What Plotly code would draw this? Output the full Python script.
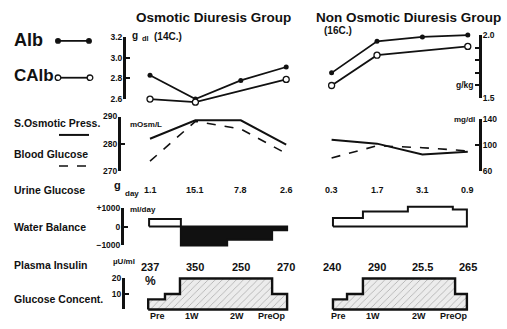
import plotly.graph_objects as go

W, H = 507, 329

# ---------------- data ----------------
groups = ["Osmotic Diuresis Group", "Non Osmotic Diuresis Group"]
group_cases = ["(14C.)", "(16C.)"]
time_labels = ["Pre", "1W", "2W", "PreOp"]
osm_x = [0, 1, 2, 3]
non_x = [4, 5, 6, 7]

alb_osm = [2.83, 2.60, 2.78, 2.91]
calb_osm = [2.60, 2.57, None, 2.79]
alb_non = [1.70, 1.95, 1.985, 2.00]
calb_non = [1.60, 1.84, None, 1.91]

sosm_osm = [281.8, 288.6, 288.6, 279.6]
sosm_non = [281.4, 280.0, 276.0, 277.0]
bglu_osm = [75, 137, 125, 87]
bglu_non = [80, 99, 96, 91]

urine_glu_osm = ["1.1", "15.1", "7.8", "2.6"]
urine_glu_non = ["0.3", "1.7", "3.1", "0.9"]

wb_edges_osm = [-0.02, 0.68, 1.70, 2.69, 3.02]
wb_vals_osm = [400, -1000, -700, -200]
wb_edges_non = [4.03, 4.69, 5.68, 6.67, 6.98]
wb_vals_non = [450, 800, 1050, 900]

insulin_osm = ["237", "350", "250", "270"]
insulin_non = ["240", "290", "25.5", "265"]

gc_edges_osm = [-0.04, 0.33, 0.66, 2.69, 3.02]
gc_vals_osm = [6.5, 10, 20, 10]
gc_edges_non = [4.03, 4.34, 4.69, 6.72, 6.98]
gc_vals_non = [6.5, 10, 20, 10]

row_labels = ["S.Osmotic Press.", "Blood Glucose", "Urine Glucose", "Water Balance",
              "Plasma Insulin", "Glucose Concent."]

# ---------------- helpers ----------------
FONT = "Liberation Sans, Arial, Helvetica, sans-serif"
BLACK = "#111111"
PX0, PXS = 150.0, 45.4  # pixel of x=0 and pixels per unit


def px(xp):
    return xp / W


def py(yp):
    return 1 - yp / H


def dom(top, bot):
    return [1 - bot / H, 1 - top / H]


def step_polygon(edges, vals):
    xs, ys = [edges[0]], [0]
    for i, v in enumerate(vals):
        xs += [edges[i], edges[i + 1]]
        ys += [v, v]
    xs += [edges[-1], edges[0]]
    ys += [0, 0]
    return xs, ys


tickfont = dict(family=FONT, size=8.5, color=BLACK, weight="bold")

# displayed scales: (name, top px, bottom px, lo, hi, position px, side, tickvals, ticktext)
scales = [
    ("alb_l", 33, 97, 2.6, 3.2, 124, "left", [2.6, 2.8, 3.0, 3.2], ["2.6", "2.8", "3.0", "3.2"]),
    ("alb_r", 31, 96, 1.5, 2.0, 480, "right", [1.5, 1.6, 1.7, 1.8, 1.9, 2.0],
     ["1.5", "", "", "", "", "2.0"]),
    ("osm", 115, 171, 270, 290, 119, "left", [270, 280, 290], ["270", "280", "290"]),
    ("bglu", 118, 171, 60, 140, 480, "right", [60, 100, 140], ["60", "100", "140"]),
    ("wb", 209, 248, -1000, 1000, 122, "left", [-1000, 0, 1000],
     ["\u22121000", "0", "+1000"]),
    ("gc", 282, 314, 0, 20, 123, "left", [0, 10, 20], ["", "10", "20"]),
]

fig = go.Figure()

layout_axes = dict(xaxis=dict(range=[-PX0 / PXS, (W - PX0) / PXS], visible=False,
                              domain=[0, 1], fixedrange=True))
data_axis = {}
n = len(scales)
EXT = 10
for i, (name, top, bot, lo, hi, pos, side, tv, tt) in enumerate(scales):
    key = "yaxis" if i == 0 else f"yaxis{i + 1}"
    layout_axes[key] = dict(domain=dom(top, bot), range=[lo, hi], anchor="free",
                            position=px(pos), side=side, showline=True, linewidth=3,
                            linecolor=BLACK, ticks="inside", ticklen=4, tickwidth=2,
                            tickcolor=BLACK, tickvals=tv, ticktext=tt, tickfont=tickfont,
                            showgrid=False, zeroline=False, fixedrange=True,
                            ticklabelstandoff=-1)
    # empty trace so that the displayed scale is rendered
    fig.add_trace(go.Scatter(x=[None], y=[None], yaxis="y" if i == 0 else f"y{i + 1}",
                             mode="lines", showlegend=False))
    # hidden twin with the same scale but a taller domain, so marks are not clipped
    k = (bot - top) / (hi - lo)
    t2, b2 = max(top - EXT, 0), min(bot + EXT, H)
    j = n + i + 1
    layout_axes[f"yaxis{j}"] = dict(domain=dom(t2, b2),
                                    range=[lo - (b2 - bot) / k, hi + (top - t2) / k],
                                    anchor="free", position=0, visible=False,
                                    fixedrange=True)
    data_axis[name] = f"y{j}"

# Albumin
for xs, alb, calb, ya in [(osm_x, alb_osm, calb_osm, data_axis["alb_l"]),
                          (non_x, alb_non, calb_non, data_axis["alb_r"])]:
    fig.add_trace(go.Scatter(x=xs, y=alb, yaxis=ya, mode="lines+markers", cliponaxis=False,
                             line=dict(color=BLACK, width=1.8),
                             marker=dict(size=5, color=BLACK)))
    fig.add_trace(go.Scatter(x=xs, y=calb, yaxis=ya, mode="lines+markers", cliponaxis=False,
                             connectgaps=True, line=dict(color=BLACK, width=1.8),
                             marker=dict(size=6, color="white", line=dict(color=BLACK, width=1.3))))

# Osmotic pressure / blood glucose
for xs, so, bg in [(osm_x, sosm_osm, bglu_osm), (non_x, sosm_non, bglu_non)]:
    fig.add_trace(go.Scatter(x=xs, y=so, yaxis=data_axis["osm"], mode="lines",
                             line=dict(color=BLACK, width=2)))
    fig.add_trace(go.Scatter(x=xs, y=bg, yaxis=data_axis["bglu"], mode="lines",
                             line=dict(color=BLACK, width=1.6, dash="dash")))

# Water balance
for edges, vals in [(wb_edges_osm, wb_vals_osm), (wb_edges_non, wb_vals_non)]:
    i = 0
    while i < len(vals):
        j = i
        while j + 1 < len(vals) and (vals[j + 1] >= 0) == (vals[i] >= 0):
            j += 1
        xs, ys = step_polygon(edges[i:j + 2], vals[i:j + 1])
        neg = vals[i] < 0
        fig.add_trace(go.Scatter(x=xs, y=ys, yaxis=data_axis["wb"], mode="lines",
                                 fill="toself", fillcolor=BLACK if neg else "white",
                                 line=dict(color=BLACK, width=2)))
        i = j + 1

# Glucose concentration
for edges, vals in [(gc_edges_osm, gc_vals_osm), (gc_edges_non, gc_vals_non)]:
    xs, ys = step_polygon(edges, vals)
    fig.add_trace(go.Scatter(x=xs, y=ys, yaxis=data_axis["gc"], mode="lines", fill="toself",
                             fillcolor="#e4e4e4",
                             fillpattern=dict(shape="/", bgcolor="#ececec", fgcolor="#666666",
                                              size=5, solidity=0.15),
                             line=dict(color=BLACK, width=2.4)))

# ---------------- text ----------------
anns = []


def ann(text, x, y, size, xanchor="left", xref="paper", weight="bold"):
    anns.append(dict(text=text, x=x if xref != "paper" else px(x), y=py(y), xref=xref,
                     yref="paper", xanchor=xanchor, yanchor="middle", showarrow=False,
                     font=dict(family=FONT, size=size, color=BLACK, weight=weight)))


ann(groups[0], 213, 13, 13.5, "center")
ann(groups[1], 408, 13, 13.5, "center")
ann("Alb", 12, 36, 18)
ann("CAlb", 12, 73, 17)
for lab, yy in zip(row_labels, [122, 154, 191, 229, 268, 303]):
    ann(lab, 12, yy, 10.5)

ann("g", 130, 31, 10)
ann("dl", 140, 35, 7.5)
ann(group_cases[0], 152, 32, 10)
ann(group_cases[1], 322, 26, 10)
ann("g/kg", 454, 83, 8.5)
ann("mOsm/L", 128, 123, 8)
ann("mg/dl", 452, 118, 8)
ann("g", 112, 186, 11)
ann("day", 123, 194, 8)
ann("ml/day", 128, 211, 8)
ann("\u00b5U/ml", 111, 265, 8)
ann("%", 143, 285, 12)

for xs, vals in [(osm_x, urine_glu_osm), (non_x, urine_glu_non)]:
    for xv, t in zip(xs, vals):
        ann(t, xv, 191, 9, "center", "x", "bold")
for xs, vals in [(osm_x, insulin_osm), (non_x, insulin_non)]:
    for xv, t in zip(xs, vals):
        ann(t, xv, 270, 11, "center", "x", "bold")
for xs in [osm_x, non_x]:
    for k, (xv, t) in enumerate(zip(xs, time_labels)):
        if k == 0:
            ann(t, xv - 0.05, 321, 9, "left", "x")
        elif k == 3:
            ann(t, xv + 0.05, 321, 9, "right", "x")
        else:
            ann(t, xv - 0.08, 321, 9, "center", "x")

# legend samples
shapes = []


def seg(x0, x1, y, dash="solid", w=1.8):
    shapes.append(dict(type="line", xref="paper", yref="paper", x0=px(x0), x1=px(x1),
                       y0=py(y), y1=py(y), line=dict(color=BLACK, width=w, dash=dash)))


def dot(x, y, r, fill):
    shapes.append(dict(type="circle", xref="paper", yref="paper", x0=px(x - r), x1=px(x + r),
                       y0=py(y + r), y1=py(y - r), fillcolor=fill,
                       line=dict(color=BLACK, width=1.3)))


seg(58, 89, 37)
dot(58, 37, 2.3, BLACK)
dot(89, 37, 2.3, BLACK)
seg(60, 88, 75)
dot(58, 75, 2.8, "white")
dot(90, 75, 2.8, "white")
seg(59, 89, 134, w=2)
seg(59, 89, 166, dash="dash", w=1.6)

fig.update_layout(
    width=W, height=H, margin=dict(l=0, r=0, t=0, b=0),
    paper_bgcolor="white", plot_bgcolor="rgba(0,0,0,0)",
    showlegend=False, annotations=anns, shapes=shapes, hovermode=False, **layout_axes,
)

fig.write_html("out.html", config={"displayModeBar": False, "staticPlot": True},
               post_script="document.body.style.margin='0';document.body.style.padding='0';")
